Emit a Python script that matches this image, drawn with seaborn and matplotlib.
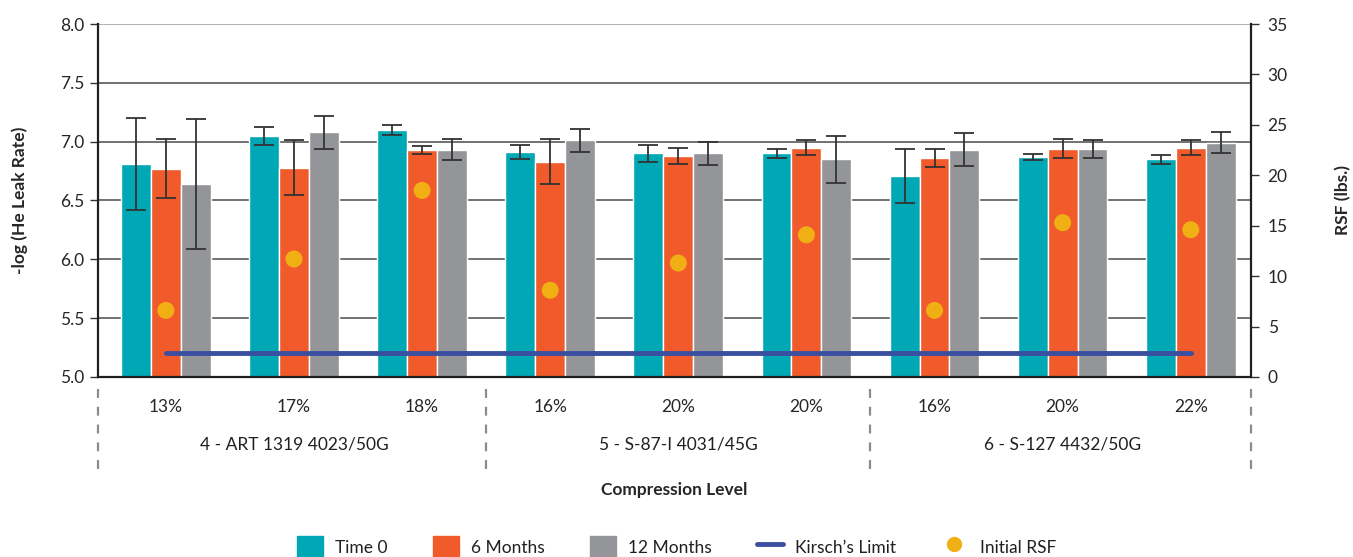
import numpy as np
import pandas as pd
import matplotlib
matplotlib.use("Agg")
import matplotlib.pyplot as plt
import matplotlib.transforms as mtransforms
from matplotlib.lines import Line2D
from matplotlib.patches import Patch
import seaborn as sns

# ---- data ----
compression = ["13%", "17%", "18%", "16%", "20%", "20%", "16%", "20%", "22%"]
gaskets = ["4 - ART 1319 4023/50G", "5 - S-87-I 4031/45G", "6 - S-127 4432/50G"]
periods = ["Time 0", "6 Months", "12 Months"]

time0 = [6.81, 7.05, 7.10, 6.91, 6.90, 6.90, 6.71, 6.87, 6.85]
months6 = [6.77, 6.78, 6.93, 6.83, 6.88, 6.95, 6.86, 6.94, 6.95]
months12 = [6.64, 7.08, 6.93, 7.01, 6.90, 6.85, 6.93, 6.94, 6.99]

err0 = [0.39, 0.075, 0.04, 0.06, 0.07, 0.035, 0.23, 0.025, 0.04]
err6 = [0.25, 0.23, 0.035, 0.19, 0.07, 0.06, 0.075, 0.08, 0.06]
err12 = [0.55, 0.14, 0.09, 0.10, 0.10, 0.20, 0.14, 0.075, 0.09]

initial_rsf = [6.6, 11.7, 18.5, 8.6, 11.3, 14.1, 6.6, 15.3, 14.6]
kirsch_limit = 2.4

colors = {"Time 0": "#00A8B5", "6 Months": "#F15A2B", "12 Months": "#939598"}
kirsch_color = "#3A4FA0"
dot_color = "#F0B014"

sns.set_style("white")
plt.rcParams["font.family"] = ["Lato", "DejaVu Sans"]
plt.rcParams["text.color"] = "#231F20"

n = len(compression)
pos = list(range(n))
df = pd.DataFrame({
    "pos": pos * 3,
    "period": [p for p in periods for _ in range(n)],
    "value": time0 + months6 + months12,
})
errs = {"Time 0": err0, "6 Months": err6, "12 Months": err12}

fig = plt.figure(figsize=(13.53, 5.57), dpi=100)
ax = fig.add_axes([0.0724, 0.3232, 0.8522, 0.6337])

# grid lines under the bars
for yv in np.arange(5.0, 8.01, 0.5):
    ax.axhline(yv, color="#4a4a4a" if yv < 8 else "#9a9a9a", lw=1.1, zorder=0)

sns.barplot(data=df, x="pos", y="value", hue="period", hue_order=periods,
            palette=colors, width=0.7, gap=0, errorbar=None, saturation=1,
            legend=False, ax=ax, zorder=2)

for cont, period in zip(ax.containers, periods):
    xs = [b.get_x() + b.get_width() / 2 for b in cont]
    hs = [b.get_height() for b in cont]
    ax.errorbar(xs, hs, yerr=errs[period], fmt="none", ecolor="#333333",
                elinewidth=1.3, capsize=7, capthick=1.3, zorder=3)

ax.set_ylim(5.0, 8.0)
ax.set_xlim(-0.53, 8.47)
ax.set_yticks(np.arange(5.0, 8.01, 0.5))
ax.set_yticklabels([f"{v:.1f}" for v in np.arange(5.0, 8.01, 0.5)], fontsize=12.5)
ax.set_xticks(pos)
ax.set_xticklabels(compression, fontsize=12.5)
ax.tick_params(axis="x", length=5, width=1, color="#333333", pad=11, direction="out")
ax.tick_params(axis="y", length=6, width=1, color="#333333", direction="out", pad=4)
ax.set_ylabel("-log (He Leak Rate)", fontsize=12.5, fontweight="bold", labelpad=23)
ax.set_xlabel("Compression Level", fontsize=12.5, fontweight="bold", labelpad=48)
for side in ["left", "bottom"]:
    ax.spines[side].set_color("#231F20")
    ax.spines[side].set_linewidth(1.6)
ax.spines["top"].set_visible(False)
ax.spines["right"].set_visible(False)

# right axis: RSF
ax2 = ax.twinx()
ax2.set_ylim(0, 35)
ax2.set_yticks(range(0, 36, 5))
ax2.set_yticklabels([str(v) for v in range(0, 36, 5)], fontsize=12.5)
ax2.tick_params(axis="y", length=6, width=1, color="#333333", direction="out", pad=6)
ax2.set_ylabel("RSF (lbs.)", fontsize=12.5, fontweight="bold", labelpad=34)
ax2.spines["right"].set_color("#231F20")
ax2.spines["right"].set_linewidth(1.6)
for side in ["left", "top", "bottom"]:
    ax2.spines[side].set_visible(False)

sns.lineplot(x=pos, y=[kirsch_limit] * n, color=kirsch_color, lw=3.5, ax=ax2,
             zorder=4)
sns.scatterplot(x=pos, y=initial_rsf, color=dot_color, s=150, edgecolor="none",
                ax=ax2, zorder=5)
ax2.set_xlim(-0.53, 8.47)

# group labels and dashed separators below the axis
trans = mtransforms.blended_transform_factory(ax.transData, ax.transAxes)
for i, g in enumerate(gaskets):
    ax.text(3 * i + 1, -0.19, g, transform=trans, ha="center", va="center",
            fontsize=12.5)
for xb in [-0.53, 2.5, 5.5, 8.47]:
    ax.add_line(Line2D([xb, xb], [-0.035, -0.265], transform=trans,
                       color="#8c8c8c", lw=1.6, ls=(0, (4, 4)), clip_on=False))

handles = [Patch(color=colors[p]) for p in periods]
handles += [Line2D([], [], color=kirsch_color, lw=3.5),
            Line2D([], [], marker="o", ls="none", color=dot_color, markersize=10)]
labels = periods + ["Kirsch\u2019s Limit", "Initial RSF"]
fig.legend(handles, labels, loc="lower center", bbox_to_anchor=(0.5, -0.03),
           ncol=5, frameon=False, fontsize=12.5, columnspacing=2.6,
           handlelength=1.5, handleheight=1.6, handletextpad=0.7)

fig.savefig("out.png", dpi=100)
